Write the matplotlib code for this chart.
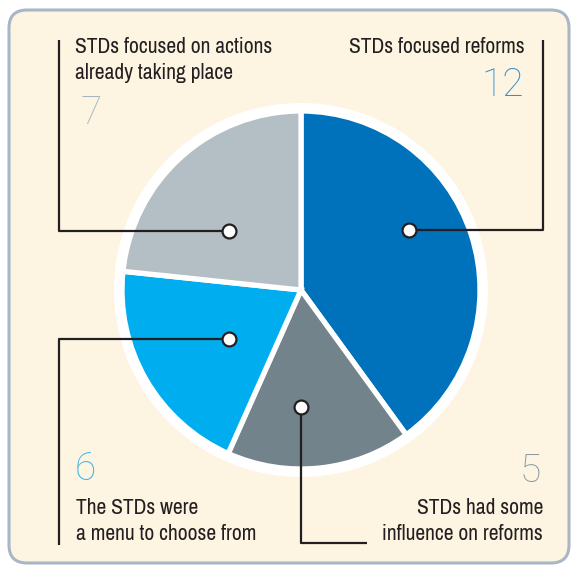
import matplotlib
matplotlib.use("Agg")
import matplotlib.pyplot as plt
from matplotlib.patches import FancyBboxPatch, Circle

W, H = 572, 570

labels = ["STDs focused reforms",
          "STDs had some\ninfluence on reforms",
          "The STDs were\na menu to choose from",
          "STDs focused on actions\nalready taking place"]
values = [12, 5, 6, 7]
colors = ["#0071bb", "#72838b", "#00aeef", "#b4bec5"]
num_colors = ["#2f8fd0", "#8a99a2", "#3bb4ea", "#a9b6c0"]

BG = "#fdf5e2"
TXT = "#231f20"
FONT = ["Archivo Narrow", "DejaVu Sans"]
NUMFONT = ["Roboto", "DejaVu Sans"]


def Y(py):
    return H - py


fig = plt.figure(figsize=(W / 100, H / 100), dpi=100)
ax = fig.add_axes([0, 0, 1, 1])

# panel
panel = FancyBboxPatch((9, Y(563)), 560, 553, boxstyle="round,pad=0,rounding_size=18",
                       fc=BG, ec="#a9b6c6", lw=2.2, zorder=0)
ax.add_patch(panel)

# pie
cx, cy, r = 301, Y(290), 179
ax.add_patch(Circle((cx, cy), r + 8, fc="white", ec="none", zorder=1))
wedges, _ = ax.pie(values, colors=colors, startangle=90, counterclock=False,
                   center=(cx, cy), radius=r, frame=True,
                   wedgeprops=dict(edgecolor="white", linewidth=3.8))
for w in wedges:
    w.set_zorder(2)
ax.set_xlim(0, W)
ax.set_ylim(0, H)
ax.set_aspect("equal")
ax.axis("off")

# leader lines: dot -> corner -> end
leaders = [
    [(409, 230), (543, 230), (543, 40)],
    [(301, 407), (301, 543), (367, 543)],
    [(229, 339), (59, 339), (59, 545)],
    [(229, 231), (59, 231), (59, 40)],
]
for pts in leaders:
    xs = [p[0] for p in pts]
    ys = [Y(p[1]) for p in pts]
    ax.plot(xs, ys, color=TXT, lw=1.6, zorder=3, solid_capstyle="butt")
    ax.plot(xs[0], ys[0], "o", ms=10, mfc="white", mec=TXT, mew=1.6, zorder=4)

# labels
fs, nfs = 15.5, 28
ax.text(525, Y(47), labels[0], ha="right", va="center", fontsize=fs, color=TXT, family=FONT)
ax.text(524, Y(85), str(values[0]), ha="right", va="center", fontsize=nfs,
        color=num_colors[0], family=NUMFONT, fontweight="light")

ax.text(75, Y(60), labels[3], ha="left", va="center", fontsize=fs, color=TXT, family=FONT,
        linespacing=1.35)
ax.text(81, Y(113), str(values[3]), ha="left", va="center", fontsize=nfs,
        color=num_colors[3], family=NUMFONT, fontweight="light")

ax.text(76, Y(521), labels[2], ha="left", va="center", fontsize=fs, color=TXT, family=FONT,
        linespacing=1.35)
ax.text(75, Y(469), str(values[2]), ha="left", va="center", fontsize=nfs,
        color=num_colors[2], family=NUMFONT, fontweight="light")

ax.text(543, Y(521), labels[1], ha="right", va="center", fontsize=fs, color=TXT, family=FONT,
        linespacing=1.35, multialignment="right")
ax.text(541, Y(471), str(values[1]), ha="right", va="center", fontsize=nfs,
        color=num_colors[1], family=NUMFONT, fontweight="light")

fig.savefig("out.png", dpi=100, facecolor="white")
